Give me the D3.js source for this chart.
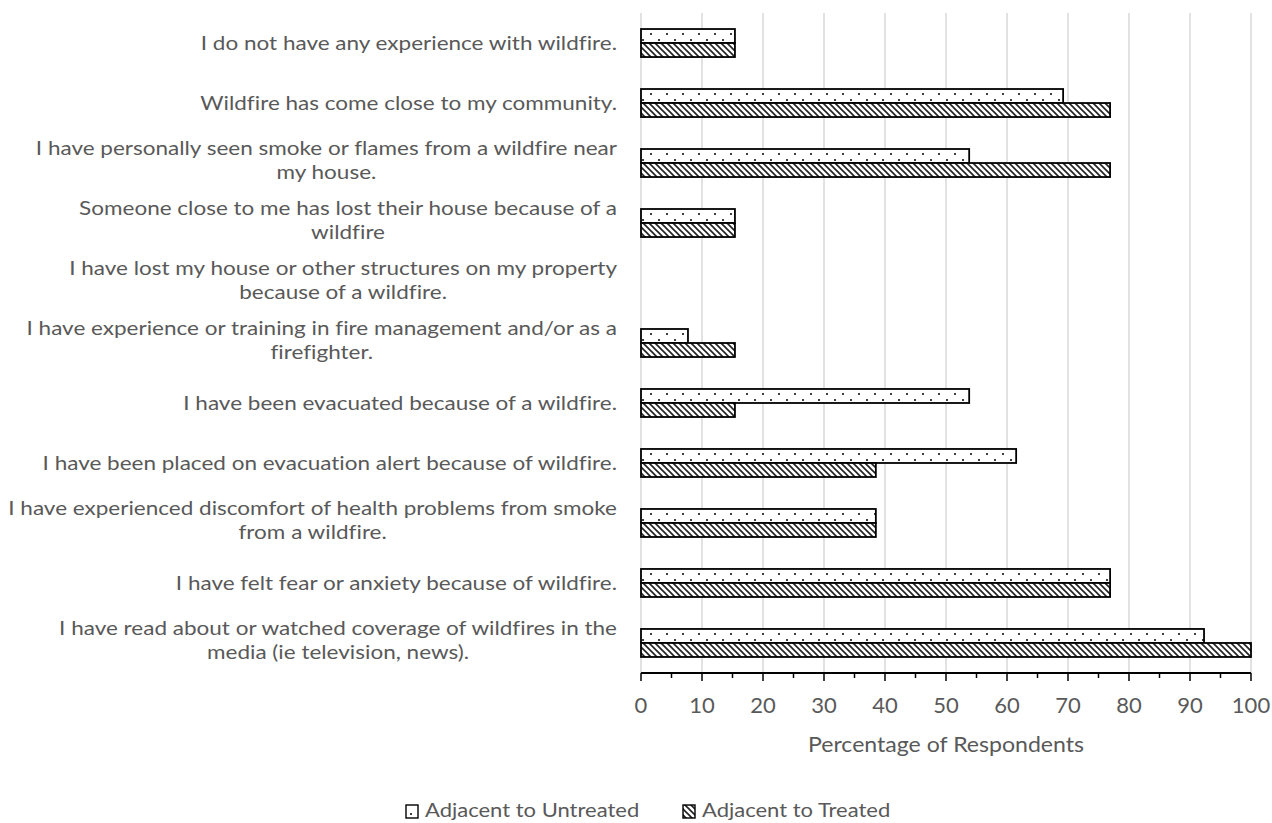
<!DOCTYPE html>
<html><head><meta charset="utf-8">
<script src="https://cdn.jsdelivr.net/npm/d3@7"></script>
<style>body{margin:0;background:#fff;} text{font-family:"Lato",sans-serif;font-variant-ligatures:none;}</style>
</head><body>
<svg id="c" width="1272" height="823"></svg>
<script>
const categories = [
  ["I do not have any experience with wildfire."],
  ["Wildfire has come close to my community."],
  ["I have personally seen smoke or flames from a wildfire near","my house."],
  ["Someone close to me has lost their house because of a","wildfire"],
  ["I have lost my house or other structures on my property","because of a wildfire."],
  ["I have experience or training in fire management and/or as a","firefighter."],
  ["I have been evacuated because of a wildfire."],
  ["I have been placed on evacuation alert because of wildfire."],
  ["I have experienced discomfort of health problems from smoke","from a wildfire."],
  ["I have felt fear or anxiety because of wildfire."],
  ["I have read about or watched coverage of wildfires in the","media (ie television, news)."]
];
const seriesNames = ["Adjacent to Untreated", "Adjacent to Treated"];
const untreated = [15.4, 69.2, 53.8, 15.4, 0, 7.7, 53.8, 61.5, 38.5, 76.9, 92.3];
const treated   = [15.4, 76.9, 76.9, 15.4, 0, 15.4, 15.4, 38.5, 38.5, 76.9, 100];
const xTicks = [0,10,20,30,40,50,60,70,80,90,100];
const axisTitle = "Percentage of Respondents";

const svg = d3.select("#c");
const defs = svg.append("defs");
const dots = defs.append("pattern").attr("id","dots").attr("patternUnits","userSpaceOnUse")
  .attr("width",16).attr("height",12).attr("x",0).attr("y",1);
dots.append("rect").attr("width",16).attr("height",12).attr("fill","#fff");
dots.append("rect").attr("x",2).attr("y",2).attr("width",2).attr("height",2).attr("fill","#404040");
dots.append("rect").attr("x",10).attr("y",8).attr("width",2).attr("height",2).attr("fill","#404040");
const hatch = defs.append("pattern").attr("id","hatch").attr("patternUnits","userSpaceOnUse")
  .attr("width",6).attr("height",6);
hatch.append("rect").attr("width",6).attr("height",6).attr("fill","#fff");
hatch.append("path").attr("d","M-1,-1 L7,7 M-1,5 L1,7 M5,-1 L7,1").attr("stroke","#222").attr("stroke-width",1.6);

const x = d3.scaleLinear().domain([0,100]).range([641,1251]);
const idx = categories.map((d,i)=>i);
const y = d3.scaleBand().domain(idx).range([13,673]).paddingInner(0.533).paddingOuter(0.267);
const ys = d3.scaleBand().domain([0,1]).range([0,y.bandwidth()]);

svg.append("g").selectAll("line").data(xTicks).join("line")
  .attr("x1",d=>x(d)).attr("x2",d=>x(d)).attr("y1",13).attr("y2",673)
  .attr("stroke","#d9d9d9").attr("stroke-width",1.5);

const series = [untreated, treated];
const fills = ["url(#dots)","url(#hatch)"];
series.forEach((vals,s)=>{
  svg.append("g").selectAll("rect").data(vals.map((v,i)=>({v,i})).filter(d=>d.v>0)).join("rect")
    .attr("x",x(0)).attr("y",d=>y(d.i)+ys(s)).attr("width",d=>x(d.v)-x(0)).attr("height",ys.bandwidth())
    .attr("fill",fills[s]).attr("stroke","#000").attr("stroke-width",1.8);
});

const ax = svg.append("g").attr("transform","translate(0,673)");
ax.append("line").attr("x1",x(0)).attr("x2",x(100)).attr("stroke","#000").attr("stroke-width",1.8);
const minor = d3.range(0,101,5);
ax.selectAll("line.t").data(minor).join("line").attr("class","t")
  .attr("x1",d=>x(d)).attr("x2",d=>x(d)).attr("y1",0).attr("y2",d=>d%10===0?8:5)
  .attr("stroke","#000").attr("stroke-width",1.5);
ax.selectAll("text").data(xTicks).join("text")
  .attr("x",d=>x(d)).attr("y",40).attr("text-anchor","middle")
  .attr("font-size",22).attr("fill","#595959").text(d=>d);
svg.append("text").attr("transform","translate(946,752) scale(1.1,1)").attr("text-anchor","middle")
  .attr("font-size",21).attr("fill","#595959").text(axisTitle);

const lineH = 23.5;
const stretch = 1.155;
categories.forEach((lines,i)=>{
  const cy = y(i)+y.bandwidth()/2 - (lines.length>1?3:0);
  const g = svg.append("g").attr("transform",`translate(617,0) scale(${stretch},1)`);
  const t = g.selectAll("text").data(lines).join("text")
    .attr("font-size",19.5).attr("fill","#595959").attr("text-anchor","middle")
    .attr("y",(d,j)=>cy + (j-(lines.length-1)/2)*lineH + 7).text(d=>d);
  let w = 0; t.each(function(){w=Math.max(w,this.getComputedTextLength());});
  t.attr("x",-w/2);
});

const leg = [{x:406, f:"url(#dots)"},{x:683,f:"url(#hatch)"}];
leg.forEach((l,i)=>{
  svg.append("rect").attr("x",l.x).attr("y",805).attr("width",12).attr("height",13)
    .attr("fill",l.f).attr("stroke","#000").attr("stroke-width",1.4);
  svg.append("text").attr("transform",`translate(${l.x+19},817) scale(1.1,1)`).attr("font-size",20).attr("fill","#595959").text(seriesNames[i]);
});
</script>
</body></html>
